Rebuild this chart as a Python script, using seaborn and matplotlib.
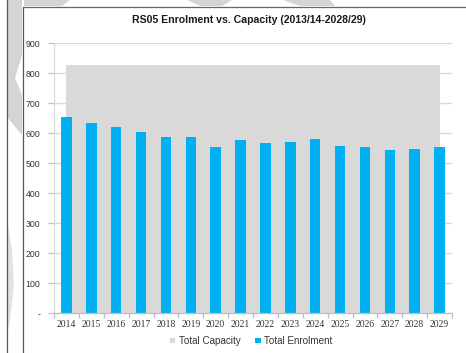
import matplotlib
matplotlib.use("Agg")
import matplotlib.pyplot as plt
import seaborn as sns
import pandas as pd
from matplotlib.patches import Patch, Polygon
from matplotlib.lines import Line2D

years = ["2014", "2015", "2016", "2017", "2018", "2019", "2020", "2021",
         "2022", "2023", "2024", "2025", "2026", "2027", "2028", "2029"]
enrolment = [653, 635, 620, 604, 589, 589, 553, 579, 569, 572, 581, 558, 556, 544, 549, 553]
capacity = [829] * 16
y_ticks = [0, 100, 200, 300, 400, 500, 600, 700, 800, 900]
y_tick_labels = ["-", "100", "200", "300", "400", "500", "600", "700", "800", "900"]
title = "RS05 Enrolment vs. Capacity (2013/14-2028/29)"

df = pd.DataFrame({"Year": years, "Enrolment": enrolment, "Capacity": capacity})

sns.set_style("white")
plt.rcParams["font.family"] = ["Liberation Sans", "DejaVu Sans"]

W, H = 466, 353
fig = plt.figure(figsize=(W / 100, H / 100), dpi=100)
fig.patch.set_facecolor("white")

# watermark-like faint shapes and page frame
wm = "#d4d4d4"
def px(x, y):
    return (x / W, 1 - y / H)
fig.add_artist(Polygon([px(8, 0), px(22, 0), px(22, 55), px(15, 78), px(22, 95),
                        px(22, 135), px(8, 118)], closed=True,
                       transform=fig.transFigure, facecolor=wm, edgecolor="none", zorder=0))
fig.add_artist(Polygon([px(8, 225), px(12, 250), px(14, 285), px(10, 320), px(8, 330)],
                       closed=True, transform=fig.transFigure, facecolor="#e2e2e2",
                       edgecolor="none", zorder=0))
fig.add_artist(Polygon([px(24, 0), px(70, 0), px(62, 6), px(24, 6)], closed=True,
                       transform=fig.transFigure, facecolor=wm, edgecolor="none", zorder=0))
fig.add_artist(Polygon([px(187, 0), px(232, 0), px(222, 6), px(200, 6)], closed=True,
                       transform=fig.transFigure, facecolor=wm, edgecolor="none", zorder=0))
fig.add_artist(Polygon([px(283, 0), px(330, 0), px(335, 6), px(300, 6)], closed=True,
                       transform=fig.transFigure, facecolor=wm, edgecolor="none", zorder=0))
fig.add_artist(Line2D([7 / W, 7 / W], [0, 1], transform=fig.transFigure,
                      color="#555555", lw=0.9))
fig.add_artist(Line2D([22.5 / W, 22.5 / W], [0, 1 - 7 / H], transform=fig.transFigure,
                      color="#555555", lw=0.9))
fig.add_artist(Line2D([22.5 / W, 1], [1 - 7 / H, 1 - 7 / H], transform=fig.transFigure,
                      color="#666666", lw=0.9))

ax = fig.add_axes([54 / W, 1 - 313.3 / H, (452 - 54) / W, 270 / H])
ax.set_facecolor("none")

grey = "#d9d9d9"
blue = "#00b0f0"

ax.fill_between(range(len(years)), df["Capacity"], color=grey, lw=0, zorder=1)
sns.barplot(data=df, x="Year", y="Enrolment", color=blue, width=0.42,
            saturation=1, ax=ax, zorder=2, edgecolor="none")

ax.set_xlim(-0.5, len(years) - 0.5)
ax.set_ylim(0, 900)
ax.set_yticks(y_ticks)
ax.set_yticklabels(y_tick_labels)
ax.set_xlabel("")
ax.set_ylabel("")

ax.yaxis.grid(True, color="#d9d9d9", lw=1.0, zorder=0)
ax.set_axisbelow(True)

for s in ["top", "right"]:
    ax.spines[s].set_visible(False)
ax.spines["left"].set_color("#d9d9d9")
ax.spines["left"].set_linewidth(0.9)
ax.spines["bottom"].set_color("#bfbfbf")
ax.spines["bottom"].set_linewidth(0.9)

ax.tick_params(axis="y", length=4, width=0.9, color="#bfbfbf", pad=6,
               labelsize=6.3, labelcolor="#333333", left=True)
ax.tick_params(axis="x", which="major", length=0, pad=5,
               labelsize=6.9, labelcolor="#333333", bottom=True)
for lbl in ax.get_xticklabels():
    lbl.set_fontfamily(["Liberation Serif", "DejaVu Serif"])
ax.set_xticks([i + 0.5 for i in range(-1, len(years))], minor=True)
ax.tick_params(axis="x", which="minor", length=3.5, width=0.9, color="#bfbfbf", bottom=True)

fig.text(249 / W, 1 - 20 / H, title, ha="center", va="center",
         fontsize=7.6, fontweight="bold", color="#1a1a1a")

handles = [Patch(facecolor=grey, edgecolor="none", label="Total Capacity"),
           Patch(facecolor=blue, edgecolor="none", label="Total Enrolment")]
fig.legend(handles=handles, loc="center", bbox_to_anchor=(251 / W, 1 - 341 / H),
           ncol=2, frameon=False, fontsize=7.1, handlelength=0.55, handleheight=0.55,
           handletextpad=0.35, columnspacing=1.5, labelcolor="#333333")

fig.savefig("out.png", dpi=100)
